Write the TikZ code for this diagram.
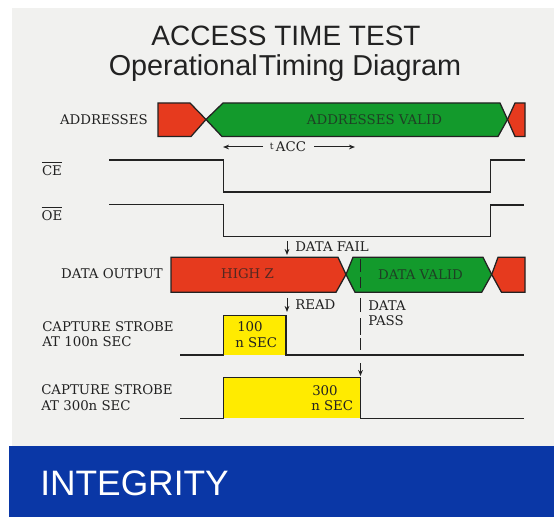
\documentclass[tikz,border=0pt]{standalone}
\usepackage{fontspec}
\setmainfont{DejaVu Serif}
\setsansfont{Liberation Sans}
\usetikzlibrary{arrows.meta}
\definecolor{paper}{HTML}{F1F1EF}
\definecolor{sigred}{HTML}{E63A1E}
\definecolor{siggreen}{HTML}{139A2C}
\definecolor{sigyellow}{HTML}{FFEB00}
\definecolor{bandblue}{HTML}{0A37A6}
\definecolor{ink}{HTML}{222222}
\tikzset{
  wave/.style={draw=ink,line width=.95pt,line join=miter},
  redbus/.style={draw=ink,line width=.95pt,fill=sigred},
  greenbus/.style={draw=ink,line width=.95pt,fill=siggreen},
  strobefill/.style={fill=sigyellow,draw=none},
  lbl/.style={font=\fontsize{10pt}{12pt}\selectfont,text=ink,inner sep=0pt,align=left},
  greenlbl/.style={lbl,text=ink!75!siggreen},
  redlbl/.style={lbl,text=ink!75!sigred},
  title/.style={font=\sffamily\fontsize{21pt}{21pt}\selectfont,text=ink,inner sep=0pt,anchor=base},
  flow/.style={-{Stealth[length=4.5pt,width=3.5pt]},line width=.75pt,draw=ink},
  passline/.style={line width=.75pt,draw=ink},
}
\begin{document}
\begin{tikzpicture}[x=0.75pt,y=-0.75pt]
\useasboundingbox (0,0) rectangle (558,517);
\fill[white] (0,0) rectangle (558,517);
\fill[paper] (12,8) rectangle (554,447);
\fill[bandblue] (9,446) rectangle (554,517);
\node[title] (t1) at (286,46) {ACCESS TIME TEST};
\node[title,font=\sffamily\fontsize{21.6pt}{21.6pt}\selectfont] (t2) at (285,76) {Operational\hspace{1pt}Timing Diagram};
\node[font=\sffamily\fontsize{26.5pt}{26.5pt}\selectfont,text=white,inner sep=0pt,anchor=base west] (integ) at (40,495) {INTEGRITY};
% addresses
\draw[redbus] (158,103) -- (190,103) -- (206,119.5) -- (191,136.5) -- (158,136.5) -- cycle;
\draw[greenbus] (206,119.5) -- (223,103) -- (500,103) -- (507.5,119.5) -- (498,136.5) -- (222,136.5) -- cycle;
\draw[redbus] (507.5,119.5) -- (515,103) -- (525,103) -- (525,136.5) -- (515,136.5) -- cycle;
\node[lbl,anchor=east] (addr) at (148,120) {ADDRESSES};
\node[greenlbl] (addrv) at (374.5,120) {ADDRESSES VALID};
% tacc
\node[lbl] (tacc) at (288,147) {\raisebox{2pt}{\fontsize{7pt}{7pt}\selectfont t}\,ACC};
\coordinate (al) at (223,147);
\coordinate (ar) at (355,147);
\coordinate (als) at (263,147);
\coordinate (ars) at (314,147);
\draw[flow] (als) -- (al);
\draw[flow] (ars) -- (ar);
% CE OE
\node[lbl] (ce) at (52,169) {\rlap{\rule[9.4pt]{15pt}{.7pt}}CE};
\node[lbl] (oe) at (52,214) {\rlap{\rule[9.4pt]{15pt}{.7pt}}OE};
\draw[wave] (109,160) -- (223.7,160) -- (223.7,192) -- (490.4,192) -- (490.4,160) -- (525,160);
\draw[wave] (109,204.4) -- (223.7,204.4) -- (223.7,236.3) -- (490.4,236.3) -- (490.4,205) -- (524,205);
% data fail
\coordinate (ff) at (287,241);
\coordinate (fe) at (287,255);
\draw[flow] (ff) -- (fe);
\node[lbl,anchor=west] (dfail) at (295,247) {DATA FAIL};
% data output
\draw[redbus] (171,257.3) -- (338,257.3) -- (346,274.5) -- (336,292.3) -- (171,292.3) -- cycle;
\draw[greenbus] (346,274.5) -- (353,257.3) -- (483,257.3) -- (491.7,274.5) -- (481.7,292.3) -- (355,292.3) -- cycle;
\draw[redbus] (491.7,274.5) -- (498,257.3) -- (525,257.3) -- (525,292.3) -- (501.5,292.3) -- cycle;
\node[lbl,anchor=east] (dout) at (163,274) {DATA OUTPUT};
\node[redlbl] (hz) at (247.5,274) {HIGH Z};
\node[greenlbl] (dv) at (420.5,274.5) {DATA VALID};
% strobe 100
\fill[strobefill] (224,316) rectangle (286,355);
\draw[wave] (180,355) -- (223.7,355) -- (223.7,315.7) -- (286,315.7) -- (286,355) -- (524,355);
\node[lbl,anchor=west] (c1a) at (42,326.7) {CAPTURE STROBE};
\node[lbl,anchor=west] (c1b) at (42,342) {AT 100n SEC};
\node[lbl,anchor=west] (n1a) at (237,327) {100};
\node[lbl,anchor=west] (n1b) at (235,343) {n SEC};
% strobe 300
\fill[strobefill] (224,378) rectangle (360.5,418);
\draw[wave] (180,418.3) -- (223.7,418.3) -- (223.7,377.7) -- (360.5,377.7) -- (360.5,418.3) -- (524,418.3);
\node[lbl,anchor=west] (c2a) at (41,390) {CAPTURE STROBE};
\node[lbl,anchor=west] (c2b) at (41,405.5) {AT 300n SEC};
\node[lbl,anchor=west] (n2a) at (312,391) {300};
\node[lbl,anchor=west] (n2b) at (311,406) {n SEC};
% read / pass
\coordinate (rf) at (287,298);
\coordinate (re) at (287,312);
\draw[flow] (rf) -- (re);
\node[lbl,anchor=west] (read) at (295,305) {READ};
\node[lbl,anchor=west] (pass) at (368,305.5) {DATA};
\node[lbl,anchor=west] (pass2) at (368,321) {PASS};
\coordinate (sf) at (360.5,363);
\coordinate (se) at (360.5,376);
\draw[flow] (sf) -- (se);
\foreach \a/\b in {259/272,277/288,298/312,318/335,338/350}
  \draw[passline] (360.7,\a) -- (360.7,\b);
\end{tikzpicture}
\end{document}
